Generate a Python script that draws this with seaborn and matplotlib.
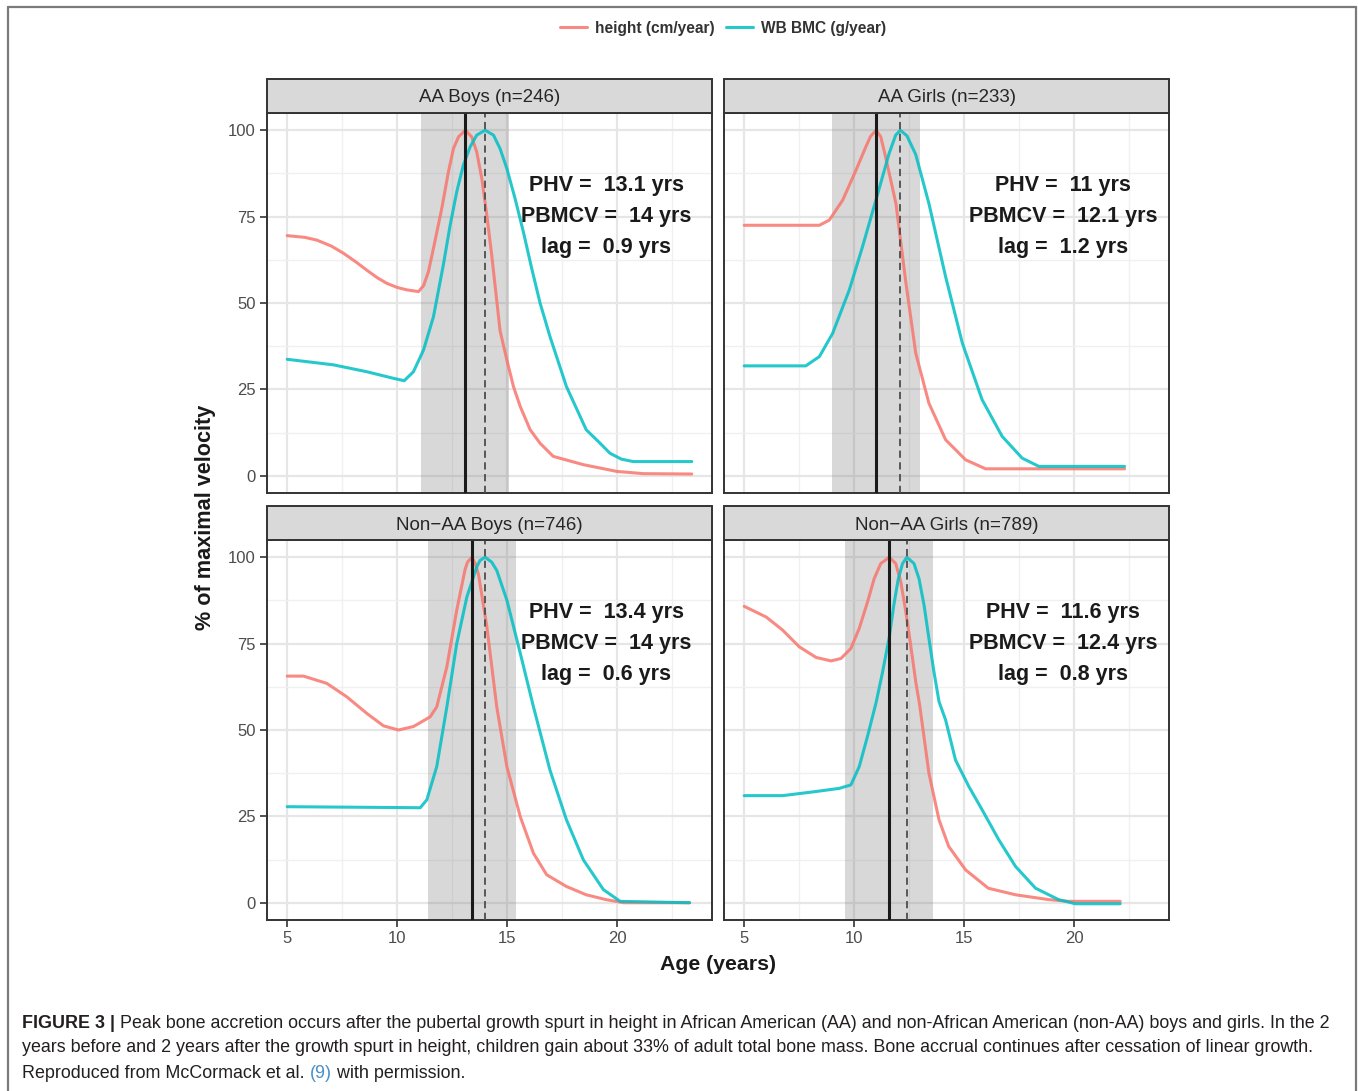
import numpy as np
import pandas as pd
import matplotlib
matplotlib.use("Agg")
import matplotlib.pyplot as plt
import seaborn as sns
from matplotlib.patches import Rectangle
from matplotlib.lines import Line2D
from matplotlib.ticker import FixedLocator

sns.set_theme(style="white")
plt.rcParams['font.family'] = ['Liberation Sans', 'DejaVu Sans']

# ---------------- data ----------------
panel_titles = ["AA Boys (n=246)", "AA Girls (n=233)", "Non\u2212AA Boys (n=746)", "Non\u2212AA Girls (n=789)"]
phv_age = [13.1, 11.0, 13.4, 11.6]
pbmcv_age = [14.0, 12.1, 14.0, 12.4]
lag_years = [0.9, 1.2, 0.6, 0.8]
phv_labels = ["13.1", "11", "13.4", "11.6"]
pbmcv_labels = ["14", "12.1", "14", "12.4"]
lag_labels = ["0.9", "1.2", "0.6", "0.8"]
series_names = ["height (cm/year)", "WB BMC (g/year)"]
x_ticks = [5, 10, 15, 20]
y_ticks = [0, 25, 50, 75, 100]

aa_boys_height_age = [5.0, 5.8, 6.35, 7.0, 7.56, 8.1, 8.62, 9.1, 9.53, 10.0, 10.44, 10.97, 11.2,
                      11.42, 11.65, 12.03, 12.33, 12.56, 12.79, 13.1, 13.39, 13.62, 13.85, 14.08,
                      14.3, 14.68, 14.99, 15.29, 15.6, 16.05, 16.5, 17.1, 18.47, 19.99, 21.2, 23.4]
aa_boys_height_pct = [69.5, 69.0, 68.2, 66.5, 64.4, 62.0, 59.5, 57.3, 55.7, 54.5, 53.8, 53.3, 55.0,
                      59.0, 65.8, 77.4, 87.9, 94.7, 98.1, 100, 98.1, 93.7, 86.0, 75.4,
                      63.9, 42.0, 33.5, 25.8, 20.0, 13.3, 9.4, 5.6, 3.2, 1.25, 0.6, 0.5]
aa_boys_bmc_age = [5.0, 7.1, 8.62, 9.83, 10.32, 10.74, 11.2, 11.65, 12.1, 12.41, 12.71, 13.01,
                   13.32, 13.62, 14.0, 14.38, 14.68, 14.99, 15.36, 15.74, 16.12, 16.5, 16.95,
                   17.7, 18.6, 19.23, 19.68, 20.2, 20.74, 23.4]
aa_boys_bmc_pct = [33.7, 32.1, 30.1, 28.2, 27.5, 30.1, 36.4, 46.0, 61.0, 72.5, 82.2, 89.9,
                   95.2, 98.6, 100, 98.6, 94.7, 88.9, 80.3, 70.6, 60.0, 50.0, 40.3,
                   25.8, 13.3, 9.4, 6.5, 4.8, 4.1, 4.1]

aa_girls_height_age = [5.0, 8.42, 8.87, 9.48, 10.08, 10.53, 10.75, 11.0, 11.21, 11.44, 11.9, 12.35,
                       12.8, 13.4, 14.16, 15.07, 15.98, 22.3]
aa_girls_height_pct = [72.5, 72.5, 74.0, 79.8, 88.4, 95.2, 98.3, 100, 98.1, 92.0, 78.8, 56.0,
                       35.5, 21.0, 10.4, 4.6, 2.0, 2.0]
aa_girls_bmc_age = [5.0, 7.8, 8.42, 9.02, 9.78, 10.38, 10.99, 11.59, 11.89, 12.1, 12.4, 12.8,
                    13.4, 14.16, 14.92, 15.82, 16.73, 17.64, 18.4, 22.3]
aa_girls_bmc_pct = [31.8, 31.8, 34.5, 41.2, 53.8, 66.3, 79.8, 93.3, 98.6, 100, 98.4, 93.0,
                    78.8, 57.6, 38.4, 22.0, 11.4, 5.1, 2.7, 2.7]

nonaa_boys_height_age = [5.0, 5.74, 6.8, 7.71, 8.62, 9.38, 10.06, 10.74, 11.5, 11.8, 12.26, 12.71,
                         13.09, 13.2, 13.4, 13.55, 13.7, 14.08, 14.53, 14.99, 15.6, 16.2, 16.8,
                         17.7, 18.6, 19.5, 20.3, 23.3]
nonaa_boys_height_pct = [65.6, 65.6, 63.5, 59.6, 54.8, 51.2, 50.0, 51.0, 53.8, 56.7, 68.3, 84.7,
                         96.5, 98.6, 100, 98.2, 95.0, 79.9, 56.7, 39.4, 24.9, 14.3, 8.1,
                         4.7, 2.3, 0.9, 0.0, 0.0]
nonaa_boys_bmc_age = [5.0, 11.05, 11.35, 11.8, 12.26, 12.71, 13.17, 13.62, 13.77, 14.0, 14.3,
                      14.53, 14.99, 15.6, 16.2, 16.95, 17.7, 18.47, 19.38, 20.14, 23.3]
nonaa_boys_bmc_pct = [27.8, 27.5, 29.8, 39.4, 56.7, 75.0, 88.5, 97.2, 99.1, 100, 98.6,
                      96.2, 87.6, 72.2, 56.7, 38.4, 24.0, 12.4, 3.8, 0.4, 0.0]

nonaa_girls_height_age = [5.0, 6.0, 6.75, 7.5, 8.27, 8.95, 9.4, 9.85, 10.23, 10.61, 10.91, 11.21,
                          11.6, 11.89, 12.12, 12.35, 12.57, 12.8, 12.98, 13.4, 13.86, 14.3, 15.07,
                          16.1, 17.34, 18.85, 19.76, 22.1]
nonaa_girls_height_pct = [85.8, 82.7, 78.9, 74.1, 71.0, 70.0, 70.7, 73.6, 79.4, 87.1, 93.8, 98.2,
                          100, 98.2, 92.9, 84.2, 74.6, 64.0, 57.2, 37.5, 24.0, 16.3, 9.5,
                          4.2, 2.3, 0.9, 0.4, 0.4]
nonaa_girls_bmc_age = [5.0, 6.75, 8.27, 9.32, 9.85, 10.23, 10.6, 11.0, 11.3, 11.6, 11.8, 12.0,
                       12.2, 12.4, 12.72, 12.95, 13.18, 13.4, 13.63, 13.86, 14.16, 14.61, 15.22,
                       15.82, 16.58, 17.34, 18.25, 19.3, 20.06, 22.1]
nonaa_girls_bmc_pct = [31.0, 31.0, 32.2, 33.1, 34.1, 39.4, 48.0, 58.0, 67.0, 77.0, 86.0, 93.5,
                       98.2, 100, 98.2, 93.8, 86.1, 76.5, 66.8, 58.2, 52.9, 41.3, 33.6,
                       26.9, 18.2, 10.5, 4.2, 0.9, -0.3, -0.3]

height_ages = [aa_boys_height_age, aa_girls_height_age, nonaa_boys_height_age, nonaa_girls_height_age]
height_pcts = [aa_boys_height_pct, aa_girls_height_pct, nonaa_boys_height_pct, nonaa_girls_height_pct]
bmc_ages = [aa_boys_bmc_age, aa_girls_bmc_age, nonaa_boys_bmc_age, nonaa_girls_bmc_age]
bmc_pcts = [aa_boys_bmc_pct, aa_girls_bmc_pct, nonaa_boys_bmc_pct, nonaa_girls_bmc_pct]

rows = []
for p in range(4):
    for a, v in zip(height_ages[p], height_pcts[p]):
        rows.append((panel_titles[p], series_names[0], a, v))
    for a, v in zip(bmc_ages[p], bmc_pcts[p]):
        rows.append((panel_titles[p], series_names[1], a, v))
df = pd.DataFrame(rows, columns=["panel", "series", "age", "pct"])

palette = {series_names[0]: "#F8766D", series_names[1]: "#00BFC4"}

# ---------------- figure ----------------
W, H = 1358, 1091
fig = plt.figure(figsize=(W / 100, H / 100), dpi=100)
fig.patch.set_facecolor("white")

def rect(l, t, r, b):
    return [l / W, 1 - b / H, (r - l) / W, (b - t) / H]

positions = [(267, 113, 712, 493), (724, 113, 1169, 493), (267, 540, 712, 920), (724, 540, 1169, 920)]
dark = "#333333"

for p in range(4):
    l, t, r, b = positions[p]
    ax = fig.add_axes(rect(l, t, r, b))
    ax.set_facecolor("white")
    ax.set_xlim(4.08, 24.32)
    ax.set_ylim(-5, 105)
    ax.xaxis.set_major_locator(FixedLocator(x_ticks))
    ax.yaxis.set_major_locator(FixedLocator(y_ticks))
    ax.xaxis.set_minor_locator(FixedLocator([7.5, 12.5, 17.5, 22.5]))
    ax.yaxis.set_minor_locator(FixedLocator([12.5, 37.5, 62.5, 87.5]))
    ax.set_axisbelow(True)
    ax.grid(which="major", color="#e6e6e6", lw=1.6)
    ax.grid(which="minor", color="#f0f0f0", lw=1.0)

    ax.axvspan(phv_age[p] - 2, phv_age[p] + 2, color="#7f7f7f", alpha=0.3, lw=0, zorder=1)

    sub = df[df.panel == panel_titles[p]]
    sns.lineplot(data=sub, x="age", y="pct", hue="series", hue_order=series_names,
                 palette=palette, sort=False, estimator=None, lw=2.2, alpha=0.85,
                 ax=ax, legend=False, zorder=3)

    ax.axvline(phv_age[p], color="#1a1a1a", lw=2.2, zorder=4)
    ax.axvline(pbmcv_age[p], color="#4d4d4d", lw=1.3, ls=(0, (4, 2.5)), zorder=4)

    txt_kw = dict(ha="center", va="center", fontsize=15.5, fontweight="bold", color="#1a1a1a", zorder=5)
    ax.text(19.5, 84, f"PHV =  {phv_labels[p]} yrs", **txt_kw)
    ax.text(19.5, 75, f"PBMCV =  {pbmcv_labels[p]} yrs", **txt_kw)
    ax.text(19.5, 66, f"lag =  {lag_labels[p]} yrs", **txt_kw)

    for s in ax.spines.values():
        s.set_color(dark)
        s.set_linewidth(1.4)

    ax.set_xlabel("")
    ax.set_ylabel("")
    ax.tick_params(axis="both", which="major", length=5, width=1.2, color=dark,
                   labelsize=12, labelcolor="#4d4d4d", pad=3, direction="out")
    ax.tick_params(which="minor", length=0)
    ax.tick_params(axis="x", bottom=(p >= 2), labelbottom=(p >= 2))
    ax.tick_params(axis="y", left=(p % 2 == 0), labelleft=(p % 2 == 0))
    if p >= 2:
        ax.set_xticklabels([str(v) for v in x_ticks])
    if p % 2 == 0:
        ax.set_yticklabels([str(v) for v in y_ticks])

    sh = 34 / (b - t)
    ax.add_patch(Rectangle((0, 1), 1, sh, transform=ax.transAxes, facecolor="#d9d9d9",
                           edgecolor=dark, lw=1.4, clip_on=False, zorder=6))
    ax.text(0.5, 1 + sh / 2 - 2 / (b - t), panel_titles[p], transform=ax.transAxes,
            ha="center", va="center", fontsize=13.5, color="#262626", zorder=7)

# axis titles
fig.text(718 / W, 1 - 964 / H, "Age (years)", ha="center", va="center",
         fontsize=15.3, fontweight="bold", color="#1a1a1a")
fig.text(205 / W, 1 - 517 / H, "% of maximal velocity", ha="center", va="center",
         rotation=90, fontsize=15.6, fontweight="bold", color="#1a1a1a")

# legend
handles = [Line2D([0], [0], color=palette[s], lw=2.2, alpha=0.85) for s in series_names]
leg = fig.legend(handles, series_names, loc="center", bbox_to_anchor=(723 / W, 1 - 28 / H),
                 ncol=2, frameon=False, fontsize=11.2, handlelength=1.75, handletextpad=0.5,
                 columnspacing=0.7)
for tx in leg.get_texts():
    tx.set_fontweight("bold")
    tx.set_color("#333333")

# outer frame
frame_kw = dict(color="#7a7a7a", lw=1.6, transform=fig.transFigure)
fig.add_artist(Line2D([8 / W, 8 / W], [0, 1 - 7 / H], **frame_kw))
fig.add_artist(Line2D([8 / W, 1356 / W], [1 - 7 / H, 1 - 7 / H], **frame_kw))
fig.add_artist(Line2D([1356 / W, 1356 / W], [0, 1 - 7 / H], **frame_kw))

# caption
cap_lines = [
    "Peak bone accretion occurs after the pubertal growth spurt in height in African American (AA) and non-African American (non-AA) boys and girls. In the 2",
    "years before and 2 years after the growth spurt in height, children gain about 33% of adult total bone mass. Bone accrual continues after cessation of linear growth.",
]
cfs = 12.9
cap_kw = dict(fontsize=cfs, color="#231f20", va="center", ha="left")
renderer = fig.canvas.get_renderer()
t0 = fig.text(22 / W, 1 - 1023 / H, "FIGURE 3 |", fontweight="bold", **cap_kw)
bb = t0.get_window_extent(renderer)
fig.text((bb.x1 + 5) / W, 1 - 1023 / H, cap_lines[0], **cap_kw)
fig.text(22 / W, 1 - 1048 / H, cap_lines[1], **cap_kw)
t3 = fig.text(22 / W, 1 - 1073 / H, "Reproduced from McCormack et al. ", **cap_kw)
bb = t3.get_window_extent(renderer)
t4 = fig.text(bb.x1 / W, 1 - 1073 / H, "(9)", fontsize=cfs, color="#4a90c8", va="center", ha="left")
bb = t4.get_window_extent(renderer)
fig.text(bb.x1 / W, 1 - 1073 / H, " with permission.", **cap_kw)

fig.savefig("out.png", dpi=100, facecolor="white")
